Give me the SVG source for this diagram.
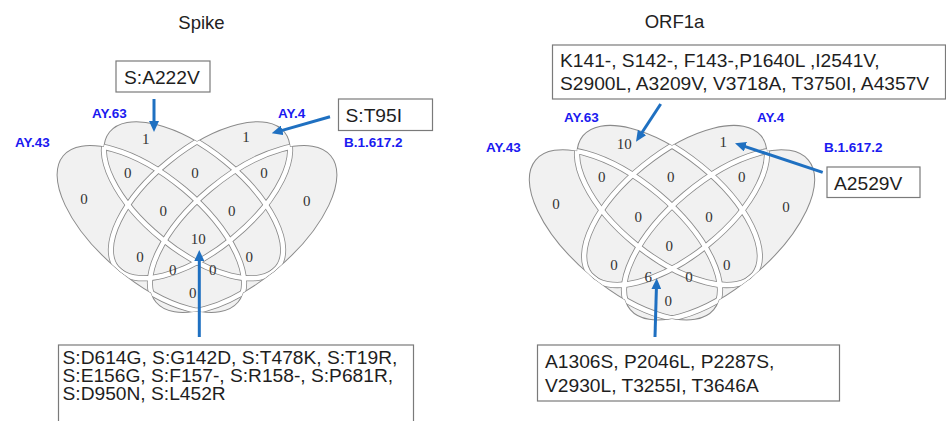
<svg xmlns="http://www.w3.org/2000/svg" xmlns:xlink="http://www.w3.org/1999/xlink" width="946" height="421" viewBox="0 0 946 421">
<style>
.title{font-family:"Liberation Sans",Arial,sans-serif;font-size:18.5px;fill:#222;text-anchor:middle}
.set{font-family:"Liberation Sans",Arial,sans-serif;font-size:13.5px;font-weight:bold;fill:#1a1af0}
.num{font-family:"Liberation Serif","Times New Roman",serif;font-size:15px;fill:#333;text-anchor:middle}
.box{fill:#fff;stroke:#7a7a7a;stroke-width:1.2}
.bt{font-family:"Liberation Sans",Arial,sans-serif;font-size:19.2px;fill:#1e1e1e}
.arr{stroke:#1f70c1;stroke-width:3;fill:none;marker-end:url(#ah)}
.fillE{fill:#f1f1f1;stroke:none}
.lineE{fill:none;stroke:#8a8a8a;stroke-width:1}
.bandG{fill:none;stroke:#8a8a8a;stroke-width:6}
.bandW{fill:none;stroke:#fff;stroke-width:4.4}
</style>
<defs>
<marker id="ah" markerUnits="userSpaceOnUse" markerWidth="11" markerHeight="10" viewBox="0 0 11 10" refX="1" refY="5" orient="auto">
<path d="M0,0 L11,5 L0,10 z" fill="#1f70c1"/>
</marker>
<ellipse id="eA" cx="150.6" cy="229" rx="114" ry="52" transform="rotate(40 150.6 229)"/>
<ellipse id="eB" cx="193.5" cy="200" rx="108" ry="50" transform="rotate(39 193.5 200)"/>
<ellipse id="eC" cx="200.5" cy="200" rx="108" ry="50" transform="rotate(-39 200.5 200)"/>
<ellipse id="eD" cx="243.4" cy="229" rx="114" ry="52" transform="rotate(-40 243.4 229)"/>
<clipPath id="cA" clipPathUnits="userSpaceOnUse"><use xlink:href="#eB"/><use xlink:href="#eC"/><use xlink:href="#eD"/></clipPath>
<clipPath id="cB" clipPathUnits="userSpaceOnUse"><use xlink:href="#eA"/><use xlink:href="#eC"/><use xlink:href="#eD"/></clipPath>
<clipPath id="cC" clipPathUnits="userSpaceOnUse"><use xlink:href="#eA"/><use xlink:href="#eB"/><use xlink:href="#eD"/></clipPath>
<clipPath id="cD" clipPathUnits="userSpaceOnUse"><use xlink:href="#eA"/><use xlink:href="#eB"/><use xlink:href="#eC"/></clipPath>
<g id="vennShape">
<g class="fillE"><use xlink:href="#eA"/><use xlink:href="#eB"/><use xlink:href="#eC"/><use xlink:href="#eD"/></g>
<g class="lineE"><use xlink:href="#eA"/><use xlink:href="#eB"/><use xlink:href="#eC"/><use xlink:href="#eD"/></g>
<g class="bandG">
<g clip-path="url(#cA)"><use xlink:href="#eA"/></g>
<g clip-path="url(#cB)"><use xlink:href="#eB"/></g>
<g clip-path="url(#cC)"><use xlink:href="#eC"/></g>
<g clip-path="url(#cD)"><use xlink:href="#eD"/></g>
</g>
<g class="bandW">
<g clip-path="url(#cA)"><use xlink:href="#eA"/></g>
<g clip-path="url(#cB)"><use xlink:href="#eB"/></g>
<g clip-path="url(#cC)"><use xlink:href="#eC"/></g>
<g clip-path="url(#cD)"><use xlink:href="#eD"/></g>
</g>
</g>
</defs>

<g id="venn-spike">
<text class="title" x="201.5" y="28.5">Spike</text>
<use xlink:href="#vennShape"/>
<text class="set" x="15" y="147">AY.43</text>
<text class="set" x="92" y="118">AY.63</text>
<text class="set" x="278" y="118">AY.4</text>
<text class="set" x="344" y="147">B.1.617.2</text>
<g class="num">
<text x="145.7" y="143.5">1</text>
<text x="246" y="142">1</text>
<text x="84" y="204">0</text>
<text x="127.7" y="177.5">0</text>
<text x="195" y="177.5">0</text>
<text x="264" y="177.5">0</text>
<text x="306.7" y="206">0</text>
<text x="163.3" y="216">0</text>
<text x="231.7" y="216">0</text>
<text x="198.3" y="243.5">10</text>
<text x="140" y="262">0</text>
<text x="249.3" y="262">0</text>
<text x="172.7" y="274.5">0</text>
<text x="212.7" y="274.5">0</text>
<text x="192.7" y="298">0</text>
</g>
</g>

<g id="venn-orf1a">
<text class="title" x="674.5" y="28">ORF1a</text>
<use xlink:href="#vennShape" transform="translate(672 244) scale(1.02) translate(-197 -238)"/>
<text class="set" x="486" y="151.5">AY.43</text>
<text class="set" x="564" y="121.5">AY.63</text>
<text class="set" x="757" y="121.5">AY.4</text>
<text class="set" x="824" y="151.5">B.1.617.2</text>
<g class="num">
<text x="624.3" y="148.5">10</text>
<text x="723.3" y="147">1</text>
<text x="556" y="209">0</text>
<text x="601.7" y="182">0</text>
<text x="670.7" y="182">0</text>
<text x="741.7" y="182">0</text>
<text x="786" y="212">0</text>
<text x="638.3" y="222">0</text>
<text x="709" y="222">0</text>
<text x="669.3" y="250.5">0</text>
<text x="614" y="269.5">0</text>
<text x="726.7" y="269.5">0</text>
<text x="648.3" y="282">6</text>
<text x="689" y="282">0</text>
<text x="668.3" y="305.5">0</text>
</g>
</g>

<g id="box-a222v">
<rect class="box" x="116" y="61" width="94" height="31"/>
<text class="bt" x="124" y="83.5">S:A222V</text>
</g>
<g id="box-t95i">
<rect class="box" x="338.5" y="99" width="94" height="31.5"/>
<text class="bt" x="345.5" y="122">S:T95I</text>
</g>
<g id="box-spike-core">
<rect class="box" x="58.5" y="345" width="355" height="90"/>
<text class="bt" style="font-size:19.2px"><tspan x="62.5" y="363.5">S:D614G, S:G142D, S:T478K, S:T19R,</tspan><tspan x="62.5" y="382">S:E156G, S:F157-, S:R158-, S:P681R,</tspan><tspan x="62.5" y="400.3">S:D950N, S:L452R</tspan></text>
</g>
<g id="box-orf-ay63">
<rect class="box" x="552.5" y="45" width="393" height="54"/>
<text class="bt"><tspan x="560" y="66.5">K141-, S142-, F143-,P1640L ,I2541V,</tspan><tspan x="560" y="90">S2900L, A3209V, V3718A, T3750I, A4357V</tspan></text>
</g>
<g id="box-a2529v">
<rect class="box" x="827" y="167" width="93" height="30.5"/>
<text class="bt" x="834" y="189.5">A2529V</text>
</g>
<g id="box-orf-core">
<rect class="box" x="537.5" y="345" width="302" height="56"/>
<text class="bt"><tspan x="545" y="368">A1306S, P2046L, P2287S,</tspan><tspan x="545" y="391.5">V2930L, T3255I, T3646A</tspan></text>
</g>

<g id="connectors">
<line class="arr" x1="154" y1="99" x2="154" y2="122"/>
<line class="arr" x1="330" y1="116.7" x2="281.3" y2="130.6"/>
<line class="arr" x1="199.3" y1="337" x2="199.3" y2="260"/>
<line class="arr" x1="660.7" y1="104" x2="641.5" y2="133.3"/>
<line class="arr" x1="822.7" y1="172.3" x2="744.5" y2="146.4"/>
<line class="arr" x1="655" y1="337" x2="656.4" y2="288.3"/>
</g>
</svg>
